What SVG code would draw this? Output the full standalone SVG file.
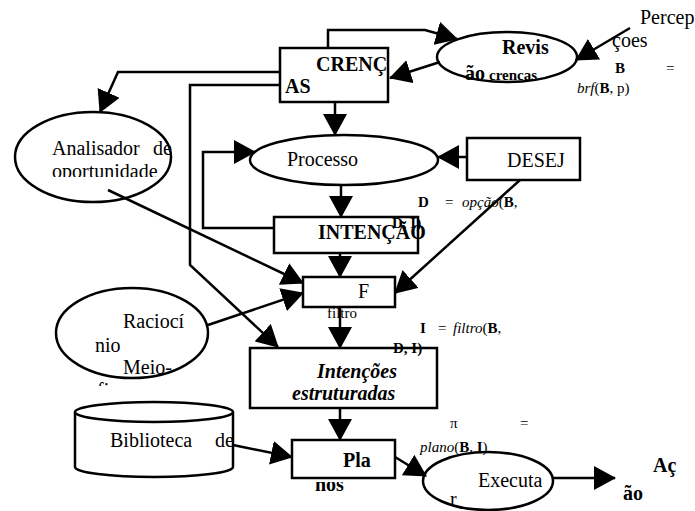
<svg xmlns="http://www.w3.org/2000/svg" width="695" height="511" viewBox="0 0 695 511">
<style>
text{font-family:"Liberation Serif","Times New Roman",serif;fill:#000;font-size:20px}
.b{font-weight:bold}
.i{font-style:italic}
.f{font-size:15px}
.shape{fill:#fff;stroke:#000;stroke-width:2.5}
.conn path{fill:none;stroke:#000;stroke-width:2.5;marker-end:url(#ah)}
</style>
<defs>
<marker id="ah" viewBox="0 0 22 24" refX="21" refY="12" markerWidth="22" markerHeight="24" markerUnits="userSpaceOnUse" orient="auto"><path d="M0,0 L22,12 L0,24 z" fill="#000"/></marker>
<clipPath id="clipAn"><rect x="0" y="100" width="200" height="77"/></clipPath>
<clipPath id="clipRa"><rect x="0" y="280" width="240" height="106"/></clipPath>
<clipPath id="clipNos"><rect x="280" y="482" width="120" height="20"/></clipPath>
</defs>
<rect width="695" height="511" fill="#fff"/>

<g id="crencas">
<rect class="shape" x="280" y="48" width="108" height="54"/>
<text class="b" x="316" y="71">CRENÇ</text>
<text class="b" x="285" y="93">AS</text>
</g>

<g id="revisao">
<ellipse class="shape" cx="507" cy="57" rx="70" ry="25"/>
<text class="b" x="502" y="54">Revis</text>
<text class="b" x="465" y="80">ão<tspan font-size="15" dx="4">crencas</tspan></text>
</g>

<g id="percepcoes">
<text x="640" y="24">Percep</text>
<text x="612" y="47">çoes</text>
</g>

<g id="analisador">
<ellipse class="shape" cx="93" cy="157" rx="78" ry="45"/>
<text x="52" y="155">Analisador</text>
<text x="153" y="155">de</text>
<text x="52" y="178" clip-path="url(#clipAn)">oportunidade</text>
</g>

<g id="processo">
<ellipse class="shape" cx="344" cy="160" rx="94" ry="25"/>
<text x="287" y="166">Processo</text>
</g>

<g id="desejos">
<rect class="shape" x="467" y="138" width="113" height="42"/>
<text x="507" y="167">DESEJ</text>
</g>

<g id="intencao">
<rect class="shape" x="274" y="217" width="144" height="36"/>
<text class="b" x="318" y="239" font-size="18">INTENÇÃO</text>
</g>

<g id="filtro">
<text class="f" x="327" y="318">filtro</text>
<rect class="shape" x="303" y="277" width="92" height="30"/>
<text x="358" y="298">F</text>
</g>

<g id="raciocinio">
<ellipse class="shape" cx="132" cy="333" rx="76" ry="45"/>
<g clip-path="url(#clipRa)">
<text x="123" y="328">Raciocí</text>
<text x="95" y="352">nio</text>
<text x="123" y="374">Meio-</text>
<text x="97" y="397">fim</text>
</g>
</g>

<g id="intencoes">
<rect class="shape" x="250" y="348" width="187" height="60"/>
<text class="b i" x="317" y="378">Intenções</text>
<text class="b i" x="292" y="400">estruturadas</text>
</g>

<g id="biblioteca">
<path class="shape" d="M75,412 V467 A79,10 0 0 0 233,467 V412"/>
<ellipse class="shape" cx="154" cy="412" rx="79" ry="10"/>
<text x="110" y="447" font-size="18">Biblioteca</text>
<text x="215" y="447" font-size="18">de</text>
</g>

<g id="planos">
<text class="b" x="315" y="491" clip-path="url(#clipNos)">nos</text>
<rect class="shape" x="292" y="440" width="103" height="38"/>
<text class="b" x="343" y="467">Pla</text>
</g>

<g id="executar">
<ellipse class="shape" cx="488" cy="481" rx="65" ry="29"/>
<text x="478" y="487">Executa</text>
<text x="450" y="506">r</text>
</g>

<g id="acao">
<text class="b" x="653" y="472">Aç</text>
<text class="b" x="623" y="500">ão</text>
</g>

<g id="connectors" class="conn">
<path d="M328,48 V30 H425 L457,39"/>
<path d="M440,62 L390,78"/>
<path d="M630,28 L576,60"/>
<path d="M280,72 H118 L100,112"/>
<path d="M280,85 H190 V265 L278,347"/>
<path d="M335,102 V135"/>
<path d="M467,157 H438"/>
<path d="M274,228 H203 V152 H255"/>
<path d="M341,185 V217"/>
<path d="M340,253 V277"/>
<path d="M520,180 L395,293"/>
<path d="M108,190 L303,283"/>
<path d="M208,325 L303,293"/>
<path d="M340,307 V348"/>
<path d="M340,408 V440"/>
<path d="M233,445 L292,457"/>
<path d="M395,457 L426,476"/>
<path d="M553,478 H615"/>
</g>

<g id="labels">
<text class="f" x="615" y="73"><tspan class="b">B</tspan><tspan x="666">=</tspan></text>
<text class="f" x="577" y="93"><tspan class="i">brf</tspan>(<tspan class="b">B</tspan>, p)</text>
<text class="f" x="418" y="207"><tspan class="b">D</tspan><tspan x="445">=</tspan><tspan x="462" class="i">opção</tspan>(<tspan class="b">B</tspan>,</text>
<text class="f b" x="392" y="228">D, I)</text>
<text class="f" x="420" y="333"><tspan class="b">I</tspan><tspan x="438">=</tspan><tspan x="453" class="i">filtro</tspan>(<tspan class="b">B</tspan>,</text>
<text class="f b" x="393" y="353">D, I)</text>
<text class="f" x="450" y="428">π<tspan x="520">=</tspan></text>
<text class="f" x="420" y="452"><tspan class="i">plano</tspan>(<tspan class="b">B</tspan>, <tspan class="b">I</tspan>)</text>
</g>
</svg>
